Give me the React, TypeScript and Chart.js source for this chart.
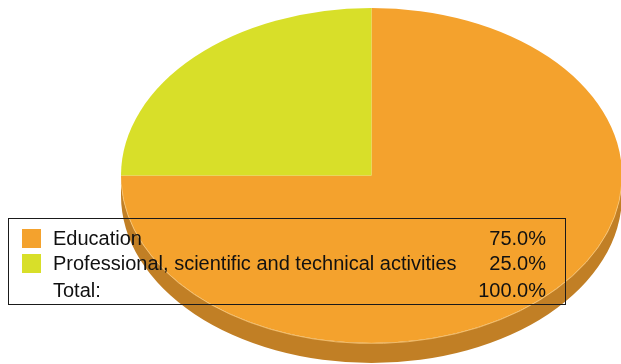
import React, { useEffect, useRef } from "react";
import { Chart, registerables } from "chart.js";

Chart.register(...registerables);

const categories = ["Education", "Professional, scientific and technical activities"];
const values = [75, 25];
const sliceColors = ["#F4A22D", "#D8DF29"];
const sideColors = ["#C17F25", "#A9AE20"];
const totalLabel = "Total:";

const W = 621;
const H = 364;
const CX = 371.5;
const CY = 175.5;
const RX = 250.5;
const SY = 167.5 / 250.5;
const DEPTH = 20;

const pie3d = {
  id: "pie3d",
  beforeDatasetsDraw(chart: any) {
    const ctx = chart.ctx;
    const meta = chart.getDatasetMeta(0);
    // side walls
    meta.data.forEach((el: any, i: number) => {
      const r = el.outerRadius;
      const ry = r * SY;
      let a = el.startAngle;
      let b = el.endAngle;
      const segs: [number, number][] = [];
      for (const off of [-2 * Math.PI, 0, 2 * Math.PI]) {
        const s = Math.max(a + off, 0);
        const e = Math.min(b + off, Math.PI);
        if (e > s) segs.push([s, e]);
      }
      segs.forEach(([s, e]) => {
        ctx.save();
        ctx.beginPath();
        ctx.ellipse(CX, CY + DEPTH, r, ry, 0, s, e, false);
        ctx.lineTo(CX + r * Math.cos(e), CY + ry * Math.sin(e));
        ctx.ellipse(CX, CY, r, ry, 0, e, s, true);
        ctx.closePath();
        ctx.fillStyle = sideColors[i];
        ctx.fill();
        ctx.restore();
      });
    });
    const el0 = meta.data[0];
    ctx.save();
    ctx.translate(CX, CY);
    ctx.scale(1, SY);
    ctx.translate(-el0.x, -el0.y);
  },
  afterDatasetsDraw(chart: any) {
    const ctx = chart.ctx;
    ctx.restore();
    const meta = chart.getDatasetMeta(0);
    const r = meta.data[0].outerRadius;
    ctx.save();
    ctx.beginPath();
    ctx.ellipse(CX, CY + 0.5, r, r * SY, 0, 0.05, Math.PI - 0.05, false);
    ctx.strokeStyle = "rgba(250,200,120,0.8)";
    ctx.lineWidth = 1;
    ctx.stroke();
    ctx.restore();
  },
  afterDraw(chart: any) {
    const ctx = chart.ctx;
    const total = values.reduce((s, v) => s + v, 0);
    ctx.save();
    ctx.strokeStyle = "#1a1a1a";
    ctx.lineWidth = 1;
    ctx.strokeRect(8.5, 218.5, 557, 86);
    ctx.font = "20px 'Liberation Sans', Arial, sans-serif";
    ctx.textBaseline = "alphabetic";
    const baselines = [245, 270];
    categories.forEach((c, i) => {
      ctx.fillStyle = sliceColors[i];
      ctx.fillRect(22, baselines[i] - 16, 19, 19);
      ctx.fillStyle = "#111";
      ctx.textAlign = "left";
      ctx.fillText(c, 53, baselines[i]);
      ctx.textAlign = "right";
      ctx.fillText(((values[i] / total) * 100).toFixed(1) + "%", 546, baselines[i]);
    });
    ctx.textAlign = "left";
    ctx.fillText(totalLabel, 53, 297);
    ctx.textAlign = "right";
    ctx.fillText("100.0%", 546, 297);
    ctx.restore();
  },
};

export default function App() {
  const ref = useRef<HTMLCanvasElement | null>(null);
  useEffect(() => {
    document.body.style.margin = "0";
    const chart = new Chart(ref.current as HTMLCanvasElement, {
      type: "pie",
      data: {
        labels: categories,
        datasets: [
          {
            data: values,
            backgroundColor: sliceColors,
            borderWidth: 0,
            radius: RX,
          } as any,
        ],
      },
      options: {
        animation: false,
        responsive: false,
        maintainAspectRatio: false,
        layout: { padding: 0 },
        plugins: { legend: { display: false }, tooltip: { enabled: false } },
      },
      plugins: [pie3d],
    });
    return () => chart.destroy();
  }, []);
  return (
    <div style={{ width: W, height: H }}>
      <canvas ref={ref} width={W} height={H} style={{ width: W, height: H, display: "block" }} />
    </div>
  );
}
